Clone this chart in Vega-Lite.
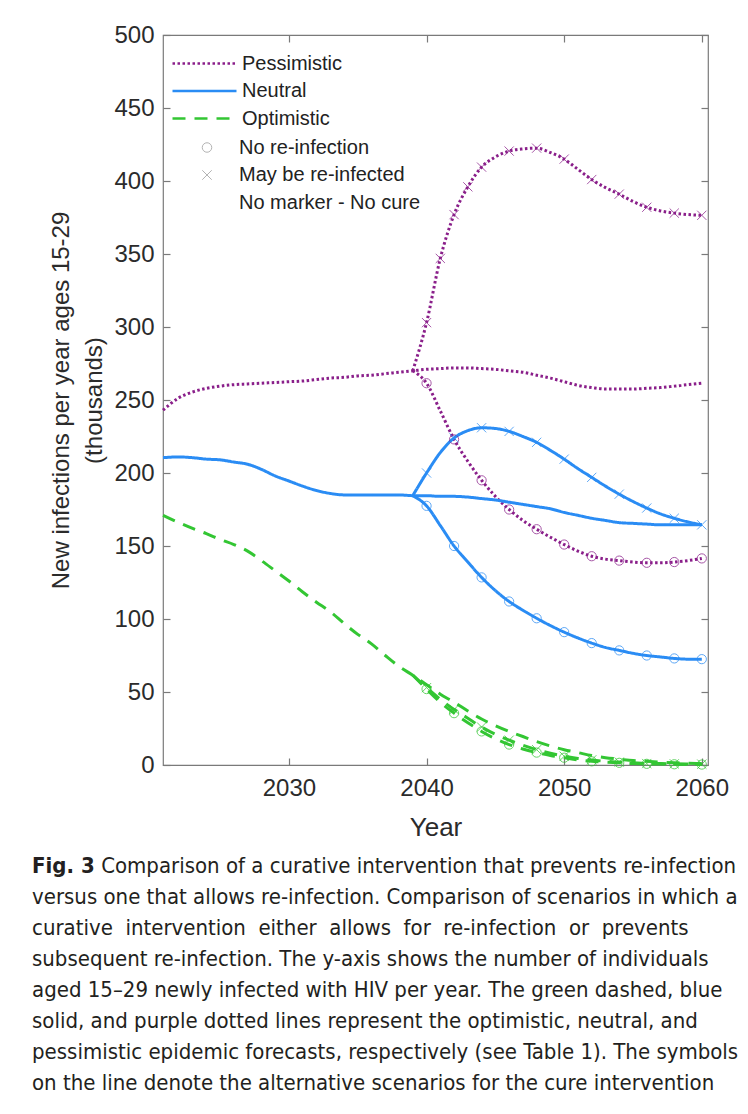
{
  "$schema": "https://vega.github.io/schema/vega-lite/v6.json",
  "width": 545,
  "height": 730,
  "autosize": {"type": "none"},
  "padding": {"left": 163, "top": 35, "right": 40, "bottom": 349},
  "background": "white",
  "config": {
    "font": "Liberation Sans",
    "view": {"stroke": "#7a7a7a", "strokeWidth": 1.2},
    "axis": {
      "grid": false,
      "domain": false,
      "tickColor": "#7a7a7a",
      "tickSize": -7,
      "tickWidth": 1.2,
      "labelColor": "#2b2b2b",
      "labelFontSize": 24,
      "labelFont": "Liberation Sans",
      "titleColor": "#2b2b2b",
      "titleFont": "Liberation Sans",
      "titleFontWeight": "normal"
    }
  },
  "title": {
    "text": "Fig. 3",
    "subtitle": [
      "\u200b\u00a0\u00a0\u00a0\u00a0\u00a0\u00a0\u00a0\u00a0\u00a0\u00a0\u00a0Comparison of a curative intervention that prevents re-infection",
      "versus one that allows re-infection. Comparison of scenarios in which a",
      "curative\u00a0 intervention\u00a0 either\u00a0 allows\u00a0 for\u00a0 re-infection\u00a0 or\u00a0 prevents",
      "subsequent re-infection. The y-axis shows the number of individuals",
      "aged 15\u201329 newly infected with HIV per year. The green dashed, blue",
      "solid, and purple dotted lines represent the optimistic, neutral, and",
      "pessimistic epidemic forecasts, respectively (see Table 1). The symbols",
      "on the line denote the alternative scenarios for the cure intervention"
    ],
    "orient": "bottom",
    "anchor": "start",
    "frame": "group",
    "dx": -131,
    "offset": 16,
    "font": "Liberation Sans Narrow, DejaVu Sans Condensed",
    "fontSize": 22,
    "fontWeight": "bold",
    "color": "#231f20",
    "lineHeight": 31,
    "subtitleFont": "Liberation Sans Narrow, DejaVu Sans Condensed",
    "subtitleFontSize": 22,
    "subtitleFontWeight": "normal",
    "subtitleColor": "#231f20",
    "subtitleLineHeight": 31,
    "subtitlePadding": -22
  },
  "data": {
    "values": [
      {"forecast": "Pessimistic", "cure": "No marker - No cure", "year": 2020.85, "value": 243, "mark": 0},
      {"forecast": "Pessimistic", "cure": "No marker - No cure", "year": 2022, "value": 251.5, "mark": 0},
      {"forecast": "Pessimistic", "cure": "No marker - No cure", "year": 2023, "value": 255.5, "mark": 0},
      {"forecast": "Pessimistic", "cure": "No marker - No cure", "year": 2024, "value": 258, "mark": 0},
      {"forecast": "Pessimistic", "cure": "No marker - No cure", "year": 2025, "value": 259.5, "mark": 0},
      {"forecast": "Pessimistic", "cure": "No marker - No cure", "year": 2026, "value": 260.5, "mark": 0},
      {"forecast": "Pessimistic", "cure": "No marker - No cure", "year": 2027, "value": 261, "mark": 0},
      {"forecast": "Pessimistic", "cure": "No marker - No cure", "year": 2028, "value": 261.5, "mark": 0},
      {"forecast": "Pessimistic", "cure": "No marker - No cure", "year": 2029, "value": 262, "mark": 0},
      {"forecast": "Pessimistic", "cure": "No marker - No cure", "year": 2030, "value": 262.5, "mark": 0},
      {"forecast": "Pessimistic", "cure": "No marker - No cure", "year": 2031, "value": 263, "mark": 0},
      {"forecast": "Pessimistic", "cure": "No marker - No cure", "year": 2032, "value": 264, "mark": 0},
      {"forecast": "Pessimistic", "cure": "No marker - No cure", "year": 2033, "value": 265, "mark": 0},
      {"forecast": "Pessimistic", "cure": "No marker - No cure", "year": 2034, "value": 265.5, "mark": 0},
      {"forecast": "Pessimistic", "cure": "No marker - No cure", "year": 2035, "value": 266.5, "mark": 0},
      {"forecast": "Pessimistic", "cure": "No marker - No cure", "year": 2036, "value": 267, "mark": 0},
      {"forecast": "Pessimistic", "cure": "No marker - No cure", "year": 2037, "value": 268, "mark": 0},
      {"forecast": "Pessimistic", "cure": "No marker - No cure", "year": 2038, "value": 269, "mark": 0},
      {"forecast": "Pessimistic", "cure": "No marker - No cure", "year": 2039, "value": 270, "mark": 0},
      {"forecast": "Pessimistic", "cure": "No marker - No cure", "year": 2040, "value": 271, "mark": 0},
      {"forecast": "Pessimistic", "cure": "No marker - No cure", "year": 2041, "value": 271.5, "mark": 0},
      {"forecast": "Pessimistic", "cure": "No marker - No cure", "year": 2042, "value": 272, "mark": 0},
      {"forecast": "Pessimistic", "cure": "No marker - No cure", "year": 2043, "value": 272, "mark": 0},
      {"forecast": "Pessimistic", "cure": "No marker - No cure", "year": 2044, "value": 271.5, "mark": 0},
      {"forecast": "Pessimistic", "cure": "No marker - No cure", "year": 2045, "value": 271, "mark": 0},
      {"forecast": "Pessimistic", "cure": "No marker - No cure", "year": 2046, "value": 270, "mark": 0},
      {"forecast": "Pessimistic", "cure": "No marker - No cure", "year": 2047, "value": 269, "mark": 0},
      {"forecast": "Pessimistic", "cure": "No marker - No cure", "year": 2048, "value": 267, "mark": 0},
      {"forecast": "Pessimistic", "cure": "No marker - No cure", "year": 2049, "value": 265, "mark": 0},
      {"forecast": "Pessimistic", "cure": "No marker - No cure", "year": 2050, "value": 262.5, "mark": 0},
      {"forecast": "Pessimistic", "cure": "No marker - No cure", "year": 2051, "value": 260, "mark": 0},
      {"forecast": "Pessimistic", "cure": "No marker - No cure", "year": 2052, "value": 258.5, "mark": 0},
      {"forecast": "Pessimistic", "cure": "No marker - No cure", "year": 2053, "value": 257.5, "mark": 0},
      {"forecast": "Pessimistic", "cure": "No marker - No cure", "year": 2054, "value": 257.5, "mark": 0},
      {"forecast": "Pessimistic", "cure": "No marker - No cure", "year": 2055, "value": 257.5, "mark": 0},
      {"forecast": "Pessimistic", "cure": "No marker - No cure", "year": 2056, "value": 258, "mark": 0},
      {"forecast": "Pessimistic", "cure": "No marker - No cure", "year": 2057, "value": 258.5, "mark": 0},
      {"forecast": "Pessimistic", "cure": "No marker - No cure", "year": 2058, "value": 259.5, "mark": 0},
      {"forecast": "Pessimistic", "cure": "No marker - No cure", "year": 2059, "value": 260.5, "mark": 0},
      {"forecast": "Pessimistic", "cure": "No marker - No cure", "year": 2060, "value": 261.5, "mark": 0},

      {"forecast": "Pessimistic", "cure": "May be re-infected", "year": 2039, "value": 270, "mark": 0},
      {"forecast": "Pessimistic", "cure": "May be re-infected", "year": 2040, "value": 303, "mark": 1},
      {"forecast": "Pessimistic", "cure": "May be re-infected", "year": 2041, "value": 347, "mark": 1},
      {"forecast": "Pessimistic", "cure": "May be re-infected", "year": 2042, "value": 377, "mark": 1},
      {"forecast": "Pessimistic", "cure": "May be re-infected", "year": 2043, "value": 396, "mark": 1},
      {"forecast": "Pessimistic", "cure": "May be re-infected", "year": 2044, "value": 409.5, "mark": 1},
      {"forecast": "Pessimistic", "cure": "May be re-infected", "year": 2045, "value": 416.5, "mark": 0},
      {"forecast": "Pessimistic", "cure": "May be re-infected", "year": 2046, "value": 420.5, "mark": 1},
      {"forecast": "Pessimistic", "cure": "May be re-infected", "year": 2047, "value": 422, "mark": 0},
      {"forecast": "Pessimistic", "cure": "May be re-infected", "year": 2048, "value": 422.5, "mark": 1},
      {"forecast": "Pessimistic", "cure": "May be re-infected", "year": 2049, "value": 419.5, "mark": 0},
      {"forecast": "Pessimistic", "cure": "May be re-infected", "year": 2050, "value": 415, "mark": 1},
      {"forecast": "Pessimistic", "cure": "May be re-infected", "year": 2051, "value": 408, "mark": 0},
      {"forecast": "Pessimistic", "cure": "May be re-infected", "year": 2052, "value": 401, "mark": 1},
      {"forecast": "Pessimistic", "cure": "May be re-infected", "year": 2053, "value": 395.5, "mark": 0},
      {"forecast": "Pessimistic", "cure": "May be re-infected", "year": 2054, "value": 391, "mark": 1},
      {"forecast": "Pessimistic", "cure": "May be re-infected", "year": 2055, "value": 386, "mark": 0},
      {"forecast": "Pessimistic", "cure": "May be re-infected", "year": 2056, "value": 382, "mark": 1},
      {"forecast": "Pessimistic", "cure": "May be re-infected", "year": 2057, "value": 379.5, "mark": 0},
      {"forecast": "Pessimistic", "cure": "May be re-infected", "year": 2058, "value": 378, "mark": 1},
      {"forecast": "Pessimistic", "cure": "May be re-infected", "year": 2059, "value": 377, "mark": 0},
      {"forecast": "Pessimistic", "cure": "May be re-infected", "year": 2060, "value": 376.5, "mark": 1},

      {"forecast": "Pessimistic", "cure": "No re-infection", "year": 2039, "value": 270, "mark": 0},
      {"forecast": "Pessimistic", "cure": "No re-infection", "year": 2040, "value": 261.5, "mark": 1},
      {"forecast": "Pessimistic", "cure": "No re-infection", "year": 2041, "value": 242.5, "mark": 0},
      {"forecast": "Pessimistic", "cure": "No re-infection", "year": 2042, "value": 223, "mark": 1},
      {"forecast": "Pessimistic", "cure": "No re-infection", "year": 2043, "value": 208, "mark": 0},
      {"forecast": "Pessimistic", "cure": "No re-infection", "year": 2044, "value": 195, "mark": 1},
      {"forecast": "Pessimistic", "cure": "No re-infection", "year": 2045, "value": 184, "mark": 0},
      {"forecast": "Pessimistic", "cure": "No re-infection", "year": 2046, "value": 175, "mark": 1},
      {"forecast": "Pessimistic", "cure": "No re-infection", "year": 2047, "value": 167.5, "mark": 0},
      {"forecast": "Pessimistic", "cure": "No re-infection", "year": 2048, "value": 161.5, "mark": 1},
      {"forecast": "Pessimistic", "cure": "No re-infection", "year": 2049, "value": 156, "mark": 0},
      {"forecast": "Pessimistic", "cure": "No re-infection", "year": 2050, "value": 151, "mark": 1},
      {"forecast": "Pessimistic", "cure": "No re-infection", "year": 2051, "value": 146.5, "mark": 0},
      {"forecast": "Pessimistic", "cure": "No re-infection", "year": 2052, "value": 143, "mark": 1},
      {"forecast": "Pessimistic", "cure": "No re-infection", "year": 2053, "value": 141, "mark": 0},
      {"forecast": "Pessimistic", "cure": "No re-infection", "year": 2054, "value": 140, "mark": 1},
      {"forecast": "Pessimistic", "cure": "No re-infection", "year": 2055, "value": 139, "mark": 0},
      {"forecast": "Pessimistic", "cure": "No re-infection", "year": 2056, "value": 138.5, "mark": 1},
      {"forecast": "Pessimistic", "cure": "No re-infection", "year": 2057, "value": 138.5, "mark": 0},
      {"forecast": "Pessimistic", "cure": "No re-infection", "year": 2058, "value": 139, "mark": 1},
      {"forecast": "Pessimistic", "cure": "No re-infection", "year": 2059, "value": 140, "mark": 0},
      {"forecast": "Pessimistic", "cure": "No re-infection", "year": 2060, "value": 141.5, "mark": 1},

      {"forecast": "Neutral", "cure": "No marker - No cure", "year": 2020.85, "value": 210.5, "mark": 0},
      {"forecast": "Neutral", "cure": "No marker - No cure", "year": 2022, "value": 211, "mark": 0},
      {"forecast": "Neutral", "cure": "No marker - No cure", "year": 2023, "value": 210.5, "mark": 0},
      {"forecast": "Neutral", "cure": "No marker - No cure", "year": 2024, "value": 209.5, "mark": 0},
      {"forecast": "Neutral", "cure": "No marker - No cure", "year": 2025, "value": 209, "mark": 0},
      {"forecast": "Neutral", "cure": "No marker - No cure", "year": 2026, "value": 207.5, "mark": 0},
      {"forecast": "Neutral", "cure": "No marker - No cure", "year": 2027, "value": 206, "mark": 0},
      {"forecast": "Neutral", "cure": "No marker - No cure", "year": 2028, "value": 202.5, "mark": 0},
      {"forecast": "Neutral", "cure": "No marker - No cure", "year": 2029, "value": 198, "mark": 0},
      {"forecast": "Neutral", "cure": "No marker - No cure", "year": 2030, "value": 194.5, "mark": 0},
      {"forecast": "Neutral", "cure": "No marker - No cure", "year": 2031, "value": 191, "mark": 0},
      {"forecast": "Neutral", "cure": "No marker - No cure", "year": 2032, "value": 188, "mark": 0},
      {"forecast": "Neutral", "cure": "No marker - No cure", "year": 2033, "value": 186, "mark": 0},
      {"forecast": "Neutral", "cure": "No marker - No cure", "year": 2034, "value": 185, "mark": 0},
      {"forecast": "Neutral", "cure": "No marker - No cure", "year": 2035, "value": 185, "mark": 0},
      {"forecast": "Neutral", "cure": "No marker - No cure", "year": 2036, "value": 185, "mark": 0},
      {"forecast": "Neutral", "cure": "No marker - No cure", "year": 2037, "value": 185, "mark": 0},
      {"forecast": "Neutral", "cure": "No marker - No cure", "year": 2038, "value": 185, "mark": 0},
      {"forecast": "Neutral", "cure": "No marker - No cure", "year": 2039, "value": 184.5, "mark": 0},
      {"forecast": "Neutral", "cure": "No marker - No cure", "year": 2040, "value": 184.5, "mark": 0},
      {"forecast": "Neutral", "cure": "No marker - No cure", "year": 2041, "value": 184, "mark": 0},
      {"forecast": "Neutral", "cure": "No marker - No cure", "year": 2042, "value": 184, "mark": 0},
      {"forecast": "Neutral", "cure": "No marker - No cure", "year": 2043, "value": 183.5, "mark": 0},
      {"forecast": "Neutral", "cure": "No marker - No cure", "year": 2044, "value": 182.5, "mark": 0},
      {"forecast": "Neutral", "cure": "No marker - No cure", "year": 2045, "value": 181.5, "mark": 0},
      {"forecast": "Neutral", "cure": "No marker - No cure", "year": 2046, "value": 180, "mark": 0},
      {"forecast": "Neutral", "cure": "No marker - No cure", "year": 2047, "value": 178.5, "mark": 0},
      {"forecast": "Neutral", "cure": "No marker - No cure", "year": 2048, "value": 177, "mark": 0},
      {"forecast": "Neutral", "cure": "No marker - No cure", "year": 2049, "value": 175.5, "mark": 0},
      {"forecast": "Neutral", "cure": "No marker - No cure", "year": 2050, "value": 173, "mark": 0},
      {"forecast": "Neutral", "cure": "No marker - No cure", "year": 2051, "value": 171, "mark": 0},
      {"forecast": "Neutral", "cure": "No marker - No cure", "year": 2052, "value": 169, "mark": 0},
      {"forecast": "Neutral", "cure": "No marker - No cure", "year": 2053, "value": 167.5, "mark": 0},
      {"forecast": "Neutral", "cure": "No marker - No cure", "year": 2054, "value": 166, "mark": 0},
      {"forecast": "Neutral", "cure": "No marker - No cure", "year": 2055, "value": 165.5, "mark": 0},
      {"forecast": "Neutral", "cure": "No marker - No cure", "year": 2056, "value": 165, "mark": 0},
      {"forecast": "Neutral", "cure": "No marker - No cure", "year": 2057, "value": 164.5, "mark": 0},
      {"forecast": "Neutral", "cure": "No marker - No cure", "year": 2058, "value": 164.5, "mark": 0},
      {"forecast": "Neutral", "cure": "No marker - No cure", "year": 2059, "value": 164.5, "mark": 0},
      {"forecast": "Neutral", "cure": "No marker - No cure", "year": 2060, "value": 164.5, "mark": 0},

      {"forecast": "Neutral", "cure": "May be re-infected", "year": 2039, "value": 184.5, "mark": 0},
      {"forecast": "Neutral", "cure": "May be re-infected", "year": 2040, "value": 200, "mark": 1},
      {"forecast": "Neutral", "cure": "May be re-infected", "year": 2041, "value": 214, "mark": 0},
      {"forecast": "Neutral", "cure": "May be re-infected", "year": 2042, "value": 224, "mark": 1},
      {"forecast": "Neutral", "cure": "May be re-infected", "year": 2043, "value": 229, "mark": 0},
      {"forecast": "Neutral", "cure": "May be re-infected", "year": 2044, "value": 231, "mark": 1},
      {"forecast": "Neutral", "cure": "May be re-infected", "year": 2045, "value": 230.5, "mark": 0},
      {"forecast": "Neutral", "cure": "May be re-infected", "year": 2046, "value": 228.5, "mark": 1},
      {"forecast": "Neutral", "cure": "May be re-infected", "year": 2047, "value": 225, "mark": 0},
      {"forecast": "Neutral", "cure": "May be re-infected", "year": 2048, "value": 221, "mark": 1},
      {"forecast": "Neutral", "cure": "May be re-infected", "year": 2049, "value": 215.5, "mark": 0},
      {"forecast": "Neutral", "cure": "May be re-infected", "year": 2050, "value": 209.5, "mark": 1},
      {"forecast": "Neutral", "cure": "May be re-infected", "year": 2051, "value": 203, "mark": 0},
      {"forecast": "Neutral", "cure": "May be re-infected", "year": 2052, "value": 197, "mark": 1},
      {"forecast": "Neutral", "cure": "May be re-infected", "year": 2053, "value": 191, "mark": 0},
      {"forecast": "Neutral", "cure": "May be re-infected", "year": 2054, "value": 185.5, "mark": 1},
      {"forecast": "Neutral", "cure": "May be re-infected", "year": 2055, "value": 180.5, "mark": 0},
      {"forecast": "Neutral", "cure": "May be re-infected", "year": 2056, "value": 176, "mark": 1},
      {"forecast": "Neutral", "cure": "May be re-infected", "year": 2057, "value": 172, "mark": 0},
      {"forecast": "Neutral", "cure": "May be re-infected", "year": 2058, "value": 169, "mark": 1},
      {"forecast": "Neutral", "cure": "May be re-infected", "year": 2059, "value": 166.5, "mark": 0},
      {"forecast": "Neutral", "cure": "May be re-infected", "year": 2060, "value": 164.5, "mark": 1},

      {"forecast": "Neutral", "cure": "No re-infection", "year": 2039, "value": 184.5, "mark": 0},
      {"forecast": "Neutral", "cure": "No re-infection", "year": 2040, "value": 177.5, "mark": 1},
      {"forecast": "Neutral", "cure": "No re-infection", "year": 2041, "value": 164, "mark": 0},
      {"forecast": "Neutral", "cure": "No re-infection", "year": 2042, "value": 150, "mark": 1},
      {"forecast": "Neutral", "cure": "No re-infection", "year": 2043, "value": 139, "mark": 0},
      {"forecast": "Neutral", "cure": "No re-infection", "year": 2044, "value": 128.5, "mark": 1},
      {"forecast": "Neutral", "cure": "No re-infection", "year": 2045, "value": 119.5, "mark": 0},
      {"forecast": "Neutral", "cure": "No re-infection", "year": 2046, "value": 112, "mark": 1},
      {"forecast": "Neutral", "cure": "No re-infection", "year": 2047, "value": 106, "mark": 0},
      {"forecast": "Neutral", "cure": "No re-infection", "year": 2048, "value": 100.5, "mark": 1},
      {"forecast": "Neutral", "cure": "No re-infection", "year": 2049, "value": 95.5, "mark": 0},
      {"forecast": "Neutral", "cure": "No re-infection", "year": 2050, "value": 91, "mark": 1},
      {"forecast": "Neutral", "cure": "No re-infection", "year": 2051, "value": 87, "mark": 0},
      {"forecast": "Neutral", "cure": "No re-infection", "year": 2052, "value": 83.5, "mark": 1},
      {"forecast": "Neutral", "cure": "No re-infection", "year": 2053, "value": 80.5, "mark": 0},
      {"forecast": "Neutral", "cure": "No re-infection", "year": 2054, "value": 78.5, "mark": 1},
      {"forecast": "Neutral", "cure": "No re-infection", "year": 2055, "value": 76.5, "mark": 0},
      {"forecast": "Neutral", "cure": "No re-infection", "year": 2056, "value": 75, "mark": 1},
      {"forecast": "Neutral", "cure": "No re-infection", "year": 2057, "value": 74, "mark": 0},
      {"forecast": "Neutral", "cure": "No re-infection", "year": 2058, "value": 73, "mark": 1},
      {"forecast": "Neutral", "cure": "No re-infection", "year": 2059, "value": 72.5, "mark": 0},
      {"forecast": "Neutral", "cure": "No re-infection", "year": 2060, "value": 72.5, "mark": 1},

      {"forecast": "Optimistic", "cure": "No marker - No cure", "year": 2020.85, "value": 171, "mark": 0},
      {"forecast": "Optimistic", "cure": "No marker - No cure", "year": 2022, "value": 166, "mark": 0},
      {"forecast": "Optimistic", "cure": "No marker - No cure", "year": 2023, "value": 162, "mark": 0},
      {"forecast": "Optimistic", "cure": "No marker - No cure", "year": 2024, "value": 158.5, "mark": 0},
      {"forecast": "Optimistic", "cure": "No marker - No cure", "year": 2025, "value": 154.5, "mark": 0},
      {"forecast": "Optimistic", "cure": "No marker - No cure", "year": 2026, "value": 151, "mark": 0},
      {"forecast": "Optimistic", "cure": "No marker - No cure", "year": 2027, "value": 146.5, "mark": 0},
      {"forecast": "Optimistic", "cure": "No marker - No cure", "year": 2028, "value": 140, "mark": 0},
      {"forecast": "Optimistic", "cure": "No marker - No cure", "year": 2029, "value": 133, "mark": 0},
      {"forecast": "Optimistic", "cure": "No marker - No cure", "year": 2030, "value": 126, "mark": 0},
      {"forecast": "Optimistic", "cure": "No marker - No cure", "year": 2031, "value": 118.5, "mark": 0},
      {"forecast": "Optimistic", "cure": "No marker - No cure", "year": 2032, "value": 111.5, "mark": 0},
      {"forecast": "Optimistic", "cure": "No marker - No cure", "year": 2033, "value": 105, "mark": 0},
      {"forecast": "Optimistic", "cure": "No marker - No cure", "year": 2034, "value": 97, "mark": 0},
      {"forecast": "Optimistic", "cure": "No marker - No cure", "year": 2035, "value": 89.5, "mark": 0},
      {"forecast": "Optimistic", "cure": "No marker - No cure", "year": 2036, "value": 83, "mark": 0},
      {"forecast": "Optimistic", "cure": "No marker - No cure", "year": 2037, "value": 75, "mark": 0},
      {"forecast": "Optimistic", "cure": "No marker - No cure", "year": 2038, "value": 67.5, "mark": 0},
      {"forecast": "Optimistic", "cure": "No marker - No cure", "year": 2039, "value": 61.5, "mark": 0},
      {"forecast": "Optimistic", "cure": "No marker - No cure", "year": 2040, "value": 55, "mark": 0},
      {"forecast": "Optimistic", "cure": "No marker - No cure", "year": 2041, "value": 48.5, "mark": 0},
      {"forecast": "Optimistic", "cure": "No marker - No cure", "year": 2042, "value": 43, "mark": 0},
      {"forecast": "Optimistic", "cure": "No marker - No cure", "year": 2043, "value": 37, "mark": 0},
      {"forecast": "Optimistic", "cure": "No marker - No cure", "year": 2044, "value": 31.5, "mark": 0},
      {"forecast": "Optimistic", "cure": "No marker - No cure", "year": 2045, "value": 27, "mark": 0},
      {"forecast": "Optimistic", "cure": "No marker - No cure", "year": 2046, "value": 23, "mark": 0},
      {"forecast": "Optimistic", "cure": "No marker - No cure", "year": 2047, "value": 19.5, "mark": 0},
      {"forecast": "Optimistic", "cure": "No marker - No cure", "year": 2048, "value": 16, "mark": 0},
      {"forecast": "Optimistic", "cure": "No marker - No cure", "year": 2049, "value": 13, "mark": 0},
      {"forecast": "Optimistic", "cure": "No marker - No cure", "year": 2050, "value": 10.5, "mark": 0},
      {"forecast": "Optimistic", "cure": "No marker - No cure", "year": 2051, "value": 8.5, "mark": 0},
      {"forecast": "Optimistic", "cure": "No marker - No cure", "year": 2052, "value": 6.5, "mark": 0},
      {"forecast": "Optimistic", "cure": "No marker - No cure", "year": 2053, "value": 5, "mark": 0},
      {"forecast": "Optimistic", "cure": "No marker - No cure", "year": 2054, "value": 4, "mark": 0},
      {"forecast": "Optimistic", "cure": "No marker - No cure", "year": 2055, "value": 3, "mark": 0},
      {"forecast": "Optimistic", "cure": "No marker - No cure", "year": 2056, "value": 2.5, "mark": 0},
      {"forecast": "Optimistic", "cure": "No marker - No cure", "year": 2057, "value": 2, "mark": 0},
      {"forecast": "Optimistic", "cure": "No marker - No cure", "year": 2058, "value": 1.5, "mark": 0},
      {"forecast": "Optimistic", "cure": "No marker - No cure", "year": 2059, "value": 1.2, "mark": 0},
      {"forecast": "Optimistic", "cure": "No marker - No cure", "year": 2060, "value": 1, "mark": 0},

      {"forecast": "Optimistic", "cure": "May be re-infected", "year": 2039, "value": 61.5, "mark": 0},
      {"forecast": "Optimistic", "cure": "May be re-infected", "year": 2040, "value": 53, "mark": 1},
      {"forecast": "Optimistic", "cure": "May be re-infected", "year": 2041, "value": 45, "mark": 0},
      {"forecast": "Optimistic", "cure": "May be re-infected", "year": 2042, "value": 38, "mark": 1},
      {"forecast": "Optimistic", "cure": "May be re-infected", "year": 2043, "value": 32, "mark": 0},
      {"forecast": "Optimistic", "cure": "May be re-infected", "year": 2044, "value": 26, "mark": 1},
      {"forecast": "Optimistic", "cure": "May be re-infected", "year": 2045, "value": 21, "mark": 0},
      {"forecast": "Optimistic", "cure": "May be re-infected", "year": 2046, "value": 17, "mark": 1},
      {"forecast": "Optimistic", "cure": "May be re-infected", "year": 2047, "value": 13.5, "mark": 0},
      {"forecast": "Optimistic", "cure": "May be re-infected", "year": 2048, "value": 10.5, "mark": 1},
      {"forecast": "Optimistic", "cure": "May be re-infected", "year": 2049, "value": 8, "mark": 0},
      {"forecast": "Optimistic", "cure": "May be re-infected", "year": 2050, "value": 6, "mark": 1},
      {"forecast": "Optimistic", "cure": "May be re-infected", "year": 2051, "value": 4.5, "mark": 0},
      {"forecast": "Optimistic", "cure": "May be re-infected", "year": 2052, "value": 3.5, "mark": 1},
      {"forecast": "Optimistic", "cure": "May be re-infected", "year": 2053, "value": 2.5, "mark": 0},
      {"forecast": "Optimistic", "cure": "May be re-infected", "year": 2054, "value": 2, "mark": 1},
      {"forecast": "Optimistic", "cure": "May be re-infected", "year": 2055, "value": 1.5, "mark": 0},
      {"forecast": "Optimistic", "cure": "May be re-infected", "year": 2056, "value": 1, "mark": 1},
      {"forecast": "Optimistic", "cure": "May be re-infected", "year": 2057, "value": 1, "mark": 0},
      {"forecast": "Optimistic", "cure": "May be re-infected", "year": 2058, "value": 0.8, "mark": 1},
      {"forecast": "Optimistic", "cure": "May be re-infected", "year": 2059, "value": 0.7, "mark": 0},
      {"forecast": "Optimistic", "cure": "May be re-infected", "year": 2060, "value": 0.6, "mark": 1},

      {"forecast": "Optimistic", "cure": "No re-infection", "year": 2039, "value": 61.5, "mark": 0},
      {"forecast": "Optimistic", "cure": "No re-infection", "year": 2040, "value": 52, "mark": 1},
      {"forecast": "Optimistic", "cure": "No re-infection", "year": 2041, "value": 43, "mark": 0},
      {"forecast": "Optimistic", "cure": "No re-infection", "year": 2042, "value": 35.5, "mark": 1},
      {"forecast": "Optimistic", "cure": "No re-infection", "year": 2043, "value": 29, "mark": 0},
      {"forecast": "Optimistic", "cure": "No re-infection", "year": 2044, "value": 23, "mark": 1},
      {"forecast": "Optimistic", "cure": "No re-infection", "year": 2045, "value": 18, "mark": 0},
      {"forecast": "Optimistic", "cure": "No re-infection", "year": 2046, "value": 14, "mark": 1},
      {"forecast": "Optimistic", "cure": "No re-infection", "year": 2047, "value": 11, "mark": 0},
      {"forecast": "Optimistic", "cure": "No re-infection", "year": 2048, "value": 8.5, "mark": 1},
      {"forecast": "Optimistic", "cure": "No re-infection", "year": 2049, "value": 6.5, "mark": 0},
      {"forecast": "Optimistic", "cure": "No re-infection", "year": 2050, "value": 5, "mark": 1},
      {"forecast": "Optimistic", "cure": "No re-infection", "year": 2051, "value": 3.5, "mark": 0},
      {"forecast": "Optimistic", "cure": "No re-infection", "year": 2052, "value": 2.5, "mark": 1},
      {"forecast": "Optimistic", "cure": "No re-infection", "year": 2053, "value": 2, "mark": 0},
      {"forecast": "Optimistic", "cure": "No re-infection", "year": 2054, "value": 1.5, "mark": 1},
      {"forecast": "Optimistic", "cure": "No re-infection", "year": 2055, "value": 1, "mark": 0},
      {"forecast": "Optimistic", "cure": "No re-infection", "year": 2056, "value": 0.8, "mark": 1},
      {"forecast": "Optimistic", "cure": "No re-infection", "year": 2057, "value": 0.6, "mark": 0},
      {"forecast": "Optimistic", "cure": "No re-infection", "year": 2058, "value": 0.5, "mark": 1},
      {"forecast": "Optimistic", "cure": "No re-infection", "year": 2059, "value": 0.4, "mark": 0},
      {"forecast": "Optimistic", "cure": "No re-infection", "year": 2060, "value": 0.3, "mark": 1}
    ]
  },
  "layer": [
    {
      "mark": {"type": "line", "interpolate": "monotone", "strokeWidth": 3},
      "encoding": {
        "x": {
          "field": "year", "type": "quantitative",
          "scale": {"domain": [2020.85, 2060.45], "nice": false, "zero": false},
          "axis": {"orient": "bottom", "values": [2030, 2040, 2050, 2060], "format": "d", "labelPadding": 18, "title": "Year", "titleFontSize": 26, "titlePadding": 14}
        },
        "y": {
          "field": "value", "type": "quantitative",
          "scale": {"domain": [0, 500], "nice": false},
          "axis": {"orient": "left", "values": [0, 50, 100, 150, 200, 250, 300, 350, 400, 450, 500], "labelPadding": 16, "title": ["New infections per year ages 15-29", "(thousands)"], "titleFontSize": 24, "titleLineHeight": 33, "titlePadding": 7}
        },
        "color": {
          "field": "forecast", "type": "nominal",
          "scale": {"domain": ["Pessimistic", "Neutral", "Optimistic"], "range": ["#8a1f8a", "#2a8cf4", "#33c633"]},
          "legend": {"title": null, "orient": "none", "legendX": 31.5, "legendY": 18.5, "symbolType": "M-4,0L4,0", "symbolSize": 256, "symbolStrokeWidth": 2.6, "labelFontSize": 20, "labelOffset": 27.5, "labelLimit": 400, "rowPadding": 7.5, "padding": 0, "labelColor": "#222222"}
        },
        "strokeDash": {
          "field": "forecast", "type": "nominal",
          "scale": {"domain": ["Pessimistic", "Neutral", "Optimistic"], "range": [[2.5, 2.5], [1, 0], [13, 9]]},
          "legend": {"title": null, "orient": "none", "legendX": 31.5, "legendY": 18.5, "symbolType": "M-4,0L4,0", "symbolSize": 256, "symbolStrokeWidth": 2.6, "labelFontSize": 20, "labelOffset": 27.5, "labelLimit": 400, "rowPadding": 7.5, "padding": 0, "labelColor": "#222222"}
        },
        "detail": {"field": "cure"}
      }
    },
    {
      "transform": [{"filter": "datum.mark === 1"}],
      "mark": {"type": "point", "filled": false, "size": 85, "strokeWidth": 1, "opacity": 0.75},
      "encoding": {
        "x": {
          "field": "year", "type": "quantitative",
          "scale": {"domain": [2020.85, 2060.45], "nice": false, "zero": false},
          "axis": {"orient": "top", "values": [2030, 2040, 2050, 2060], "labels": false, "title": null}
        },
        "y": {
          "field": "value", "type": "quantitative",
          "scale": {"domain": [0, 500], "nice": false},
          "axis": {"orient": "right", "values": [0, 50, 100, 150, 200, 250, 300, 350, 400, 450, 500], "labels": false, "title": null}
        },
        "color": {"field": "forecast", "type": "nominal", "legend": null},
        "shape": {
          "field": "cure", "type": "nominal",
          "scale": {"domain": ["No re-infection", "May be re-infected", "No marker - No cure"], "range": ["circle", "M-1,-1L1,1M-1,1L1,-1", "M0,0"]},
          "legend": {"title": null, "orient": "none", "legendX": 34, "legendY": 102.5, "symbolSize": 90, "symbolStrokeColor": "#9a9a9a", "symbolFillColor": "transparent", "symbolStrokeWidth": 1, "labelFontSize": 20, "labelOffset": 22, "labelLimit": 400, "rowPadding": 7.5, "padding": 0, "labelColor": "#222222"}
        }
      }
    }
  ],
  "resolve": {"axis": {"x": "independent", "y": "independent"}}
}
